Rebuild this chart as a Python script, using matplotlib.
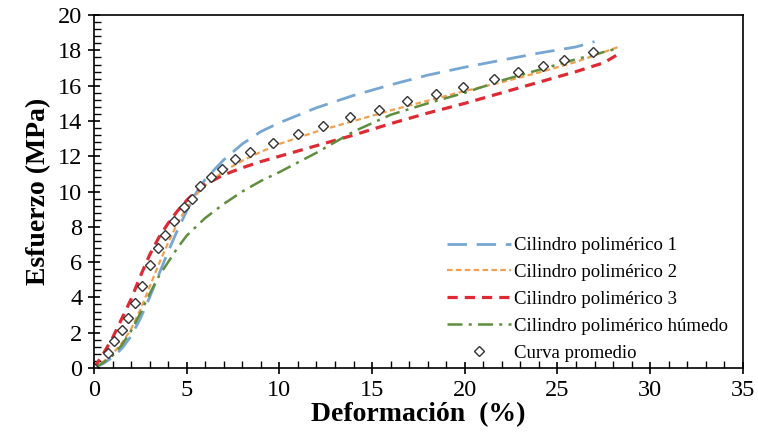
import numpy as np
import matplotlib
matplotlib.use("Agg")
import matplotlib.pyplot as plt
from matplotlib.ticker import MultipleLocator

# curves (deformation %, stress MPa)
x_c1 = [0, 0.5, 1, 1.5, 2, 2.5, 3, 3.5, 4, 4.5, 5, 5.5, 6, 7, 8, 9, 10, 12, 14, 16, 18, 20, 22, 24, 26, 27]
y_c1 = [0, 0.25, 0.6, 1.1, 1.8, 2.8, 4.0, 5.3, 6.6, 7.8, 8.9, 9.9, 10.7, 11.8, 12.7, 13.4, 13.9, 14.75, 15.45, 16.05, 16.6, 17.05, 17.45, 17.85, 18.2, 18.5]

x_c2 = [0, 0.5, 1, 1.5, 2, 2.5, 3, 3.5, 4, 4.5, 5, 5.5, 6, 7, 8, 9, 10, 12, 14, 16, 18, 20, 22, 24, 26, 28.3]
y_c2 = [0, 0.35, 0.8, 1.4, 2.2, 3.3, 4.6, 5.9, 7.1, 8.2, 9.1, 9.8, 10.35, 11.15, 11.75, 12.25, 12.7, 13.4, 14.0, 14.6, 15.15, 15.7, 16.2, 16.75, 17.35, 18.2]

x_c3 = [0, 0.5, 1, 1.5, 2, 2.5, 3, 3.5, 4, 4.5, 5, 5.5, 6, 7, 8, 9, 10, 12, 14, 16, 18, 20, 22, 24, 26, 27.5, 28.3]
y_c3 = [0, 0.8, 1.7, 2.8, 3.9, 5.2, 6.4, 7.4, 8.2, 8.9, 9.5, 10.0, 10.4, 10.95, 11.35, 11.7, 12.0, 12.6, 13.2, 13.85, 14.45, 15.0, 15.6, 16.2, 16.8, 17.3, 17.8]

x_hum = [0, 0.5, 1, 1.5, 2, 2.5, 3, 3.5, 4, 4.5, 5, 6, 7, 8, 9, 10, 12, 14, 16, 18, 20, 22, 24, 26, 28.2]
y_hum = [0, 0.3, 0.7, 1.3, 2.1, 3.1, 4.2, 5.2, 6.0, 6.8, 7.5, 8.5, 9.3, 10.0, 10.6, 11.1, 12.2, 13.4, 14.35, 15.0, 15.6, 16.3, 16.9, 17.5, 18.1]

x_avg = [0, 0.77, 1.1, 1.53, 1.85, 2.21, 2.6, 3.04, 3.47, 3.83, 4.33, 4.87, 5.27, 5.72, 6.31,
         6.89, 7.6, 8.41, 9.67, 11.02, 12.33, 13.8, 15.37, 16.87, 18.45, 19.92, 21.6, 22.88, 24.2, 25.35, 26.93]
y_avg = [0, 0.87, 1.55, 2.15, 2.85, 3.66, 4.64, 5.84, 6.8, 7.54, 8.35, 9.14, 9.55, 10.3, 10.8,
         11.3, 11.87, 12.25, 12.78, 13.29, 13.7, 14.24, 14.65, 15.14, 15.52, 15.94, 16.37, 16.75, 17.13, 17.45, 17.92]

plt.rcParams['font.family'] = ['Liberation Serif', 'DejaVu Serif']

fig = plt.figure(figsize=(7.58, 4.46), dpi=100)
ax = fig.add_axes([0.124, 0.175, 0.856, 0.791])

ax.plot(x_c1, y_c1, color='#76a7d3', lw=2.0, dashes=(7, 3.5), label='Cilindro polimérico 1')
ax.plot(x_c2, y_c2, color='#f0a04e', lw=1.6, dashes=(2.5, 1.5), label='Cilindro polimérico 2')
ax.plot(x_c3, y_c3, color='#dd2a33', lw=2.3, dashes=(3.2, 2.2), label='Cilindro polimérico 3')
ax.plot(x_hum, y_hum, color='#5e8e3e', lw=1.8, dashes=(6, 2.5, 1.2, 2.5), label='Cilindro polimérico húmedo')
ax.plot(x_avg, y_avg, ls='none', marker='D', ms=5, mfc='white', mec='#333333', mew=1.0, label='Curva promedio')

ax.set_xlim(0, 35)
ax.set_ylim(0, 20)
ax.xaxis.set_major_locator(MultipleLocator(5))
ax.xaxis.set_minor_locator(MultipleLocator(1))
ax.yaxis.set_major_locator(MultipleLocator(2))
ax.yaxis.set_minor_locator(MultipleLocator(0.4))
ax.tick_params(which='major', direction='inout', length=9, width=1.2, labelsize=17.5, pad=4)
ax.tick_params(which='minor', direction='in', length=5, width=1.0)
for s in ax.spines.values():
    s.set_linewidth(1.2)

ax.set_xlabel('Deformación  (%)', fontsize=20, fontweight='bold', labelpad=1)
ax.set_ylabel('Esfuerzo (MPa)', fontsize=20, fontweight='bold', labelpad=5)

ax.legend(loc='lower left', bbox_to_anchor=(0.518, -0.03), frameon=False, fontsize=13.5,
          handlelength=3.4, handletextpad=0.15, labelspacing=0.52)

fig.savefig('out.png', dpi=100)
